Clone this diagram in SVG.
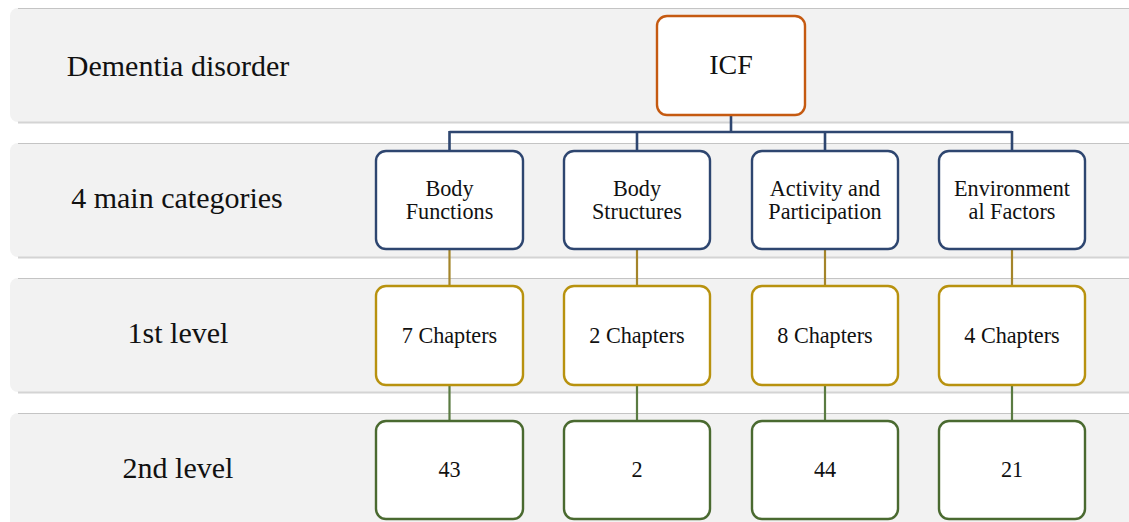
<svg xmlns="http://www.w3.org/2000/svg" width="1129" height="522" viewBox="0 0 1129 522">
  <defs>
    <style>
      .band { fill: #f2f2f2; stroke: none; }
      .band-top { stroke: #c4c4c4; stroke-width: 1.2; fill: none; }
      .band-bottom { stroke: #d4d4d4; stroke-width: 2; fill: none; }
      text { font-family: 'Liberation Serif', 'DejaVu Serif', serif; fill: #111; text-anchor: middle; }
      .row-label { font-size: 30px; }
      .box { fill: #ffffff; stroke-width: 2.4; }
      .icf { stroke: #c55a11; }
      .cat { stroke: #2e4670; }
      .lvl1 { stroke: #b8920f; }
      .lvl2 { stroke: #4a6a30; }
      .txt { font-size: 22.2px; }
      .txt-big { font-size: 28px; }
      .c-blue { stroke: #2e4670; stroke-width: 2.6; fill: none; }
      .c-gold { stroke: #a4852a; stroke-width: 2.2; fill: none; }
      .c-green { stroke: #5a7b42; stroke-width: 2.2; fill: none; }
    </style>
  </defs>

  <rect width="1129" height="522" fill="#ffffff"/>

  <!-- background bands, one per hierarchy level -->
  <g id="bands">
    <rect class="band" x="10" y="8" width="1130" height="114" rx="8"/>
    <path class="band-top" d="M18 8.5 H1129"/>
    <path class="band-bottom" d="M18 122.5 H1129"/>

    <rect class="band" x="10" y="143" width="1130" height="114" rx="8"/>
    <path class="band-top" d="M18 143.5 H1129"/>
    <path class="band-bottom" d="M18 257.5 H1129"/>

    <rect class="band" x="10" y="278" width="1130" height="114" rx="8"/>
    <path class="band-top" d="M18 278.5 H1129"/>
    <path class="band-bottom" d="M18 392.5 H1129"/>

    <rect class="band" x="10" y="413" width="1130" height="120" rx="8"/>
    <path class="band-top" d="M18 413.5 H1129"/>
  </g>

  <!-- row labels -->
  <g id="row-labels">
    <text class="row-label" x="178" y="76" font-family="Liberation Serif, DejaVu Serif, serif">Dementia disorder</text>
    <text class="row-label" x="177" y="208" font-family="Liberation Serif, DejaVu Serif, serif">4 main categories</text>
    <text class="row-label" x="178" y="343" font-family="Liberation Serif, DejaVu Serif, serif">1st level</text>
    <text class="row-label" x="178" y="478" font-family="Liberation Serif, DejaVu Serif, serif">2nd level</text>
  </g>

  <!-- connectors -->
  <g id="connectors">
    <path class="c-blue" d="M731 115 V132 M449.5 132 H1012 M449.5 131 V151 M637 131 V151 M825 131 V151 M1012 131 V151"/>
    <path class="c-gold" d="M449.5 249 V286 M637 249 V286 M825 249 V286 M1012 249 V286"/>
    <path class="c-green" d="M449.5 385 V421 M637 385 V421 M825 385 V421 M1012 385 V421"/>
  </g>

  <g id="icf">
    <rect class="box icf" x="657" y="16" width="148" height="99" rx="10"/>
    <text class="txt-big" x="731" y="74">ICF</text>
  </g>

  <g id="body-functions">
    <rect class="box cat" x="376" y="151" width="147" height="98" rx="10"/>
    <text class="txt" x="449.5" y="196">Body</text>
    <text class="txt" x="449.5" y="219">Functions</text>
  </g>
  <g id="body-structures">
    <rect class="box cat" x="564" y="151" width="146" height="98" rx="10"/>
    <text class="txt" x="637" y="196">Body</text>
    <text class="txt" x="637" y="219">Structures</text>
  </g>
  <g id="activity-participation">
    <rect class="box cat" x="752" y="151" width="146" height="98" rx="10"/>
    <text class="txt" x="825" y="196">Activity and</text>
    <text class="txt" x="825" y="219">Participation</text>
  </g>
  <g id="environmental-factors">
    <rect class="box cat" x="939" y="151" width="146" height="98" rx="10"/>
    <text class="txt" x="1012" y="196">Environment</text>
    <text class="txt" x="1012" y="219">al Factors</text>
  </g>

  <g id="bf-chapters">
    <rect class="box lvl1" x="376" y="286" width="147" height="99" rx="10"/>
    <text class="txt" x="449.5" y="343">7 Chapters</text>
  </g>
  <g id="bs-chapters">
    <rect class="box lvl1" x="564" y="286" width="146" height="99" rx="10"/>
    <text class="txt" x="637" y="343">2 Chapters</text>
  </g>
  <g id="ap-chapters">
    <rect class="box lvl1" x="752" y="286" width="146" height="99" rx="10"/>
    <text class="txt" x="825" y="343">8 Chapters</text>
  </g>
  <g id="ef-chapters">
    <rect class="box lvl1" x="939" y="286" width="146" height="99" rx="10"/>
    <text class="txt" x="1012" y="343">4 Chapters</text>
  </g>

  <g id="bf-items">
    <rect class="box lvl2" x="376" y="421" width="147" height="98" rx="10"/>
    <text class="txt" x="449.5" y="477">43</text>
  </g>
  <g id="bs-items">
    <rect class="box lvl2" x="564" y="421" width="146" height="98" rx="10"/>
    <text class="txt" x="637" y="477">2</text>
  </g>
  <g id="ap-items">
    <rect class="box lvl2" x="752" y="421" width="146" height="98" rx="10"/>
    <text class="txt" x="825" y="477">44</text>
  </g>
  <g id="ef-items">
    <rect class="box lvl2" x="939" y="421" width="146" height="98" rx="10"/>
    <text class="txt" x="1012" y="477">21</text>
  </g>
</svg>
